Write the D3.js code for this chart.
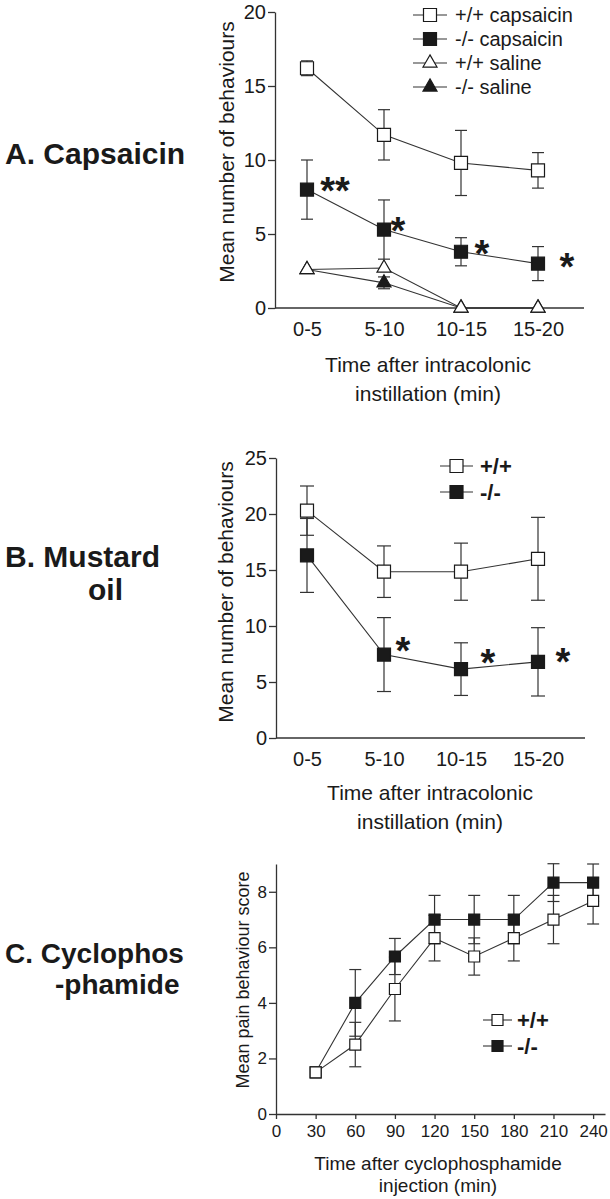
<!DOCTYPE html>
<html>
<head>
<meta charset="utf-8">
<script src="https://cdn.jsdelivr.net/npm/d3@7"></script>
<style>
  body { margin: 0; background: #fff; }
  svg { display: block; font-family: "Liberation Sans", Arial, sans-serif; }
</style>
</head>
<body>
<div id="chart"></div>
<script>
// ---- data ----
const timeBins = ['0-5', '5-10', '10-15', '15-20'];

// A. capsaicin
const capWtMean = [16.2, 11.7, 9.8, 9.3];
const capWtErr = [0.5, 1.7, 2.2, 1.2];
const capKoMean = [8.0, 5.3, 3.8, 3.0];
const capKoErr = [2.0, 2.0, 0.95, 1.15];
const salWtMean = [2.6, 2.7, 0, 0];
const salWtErr = [0, 0, 0, 0];
const salKoMean = [2.6, 1.7, 0, 0];
const salKoErr = [0, 0.4, 0, 0];
const capStars = ['**', '*', '*', '*'];
const capTicks = [0, 5, 10, 15, 20];
const capLegend = ['+/+ capsaicin', '-/- capsaicin', '+/+ saline', '-/- saline'];

// B. mustard oil
const mustWtMean = [20.3, 14.85, 14.85, 16.0];
const mustWtErr = [2.2, 2.3, 2.55, 3.7];
const mustKoMean = [16.3, 7.45, 6.15, 6.8];
const mustKoErr = [3.3, 3.3, 2.35, 3.05];
const mustStars = ['', '*', '*', '*'];
const mustTicks = [0, 5, 10, 15, 20, 25];

// C. cyclophosphamide
const cycTimes = [30, 60, 90, 120, 150, 180, 210, 240];
const cycWtMean = [1.5, 2.5, 4.5, 6.33, 5.67, 6.33, 7.0, 7.67];
const cycWtErr = [0, 0.8, 1.15, 0.82, 0.67, 0.82, 0.87, 0.83];
const cycKoMean = [1.5, 4.0, 5.67, 7.0, 7.0, 7.0, 8.33, 8.33];
const cycKoErr = [0, 1.2, 0.65, 0.87, 0.87, 0.87, 0.68, 0.67];
const cycXTicks = [0, 30, 60, 90, 120, 150, 180, 210, 240];
const cycYTicks = [0, 2, 4, 6, 8];

const genoLegend = ['+/+', '-/-'];

// ---- drawing ----
const ink = '#1a1a1a';
const lineInk = '#333';
const svg = d3.select('#chart').append('svg')
  .attr('width', 610)
  .attr('height', 1199);

// layers per panel so whiskers sit under lines and lines under markers
function layers() {
  const g = svg.append('g');
  return { err: g.append('g'), line: g.append('g'), mark: g.append('g'), top: g };
}

function series(L, x, y, xs, means, errs, o) {
  const pts = xs.map((xv, i) => ({ xv, v: means[i], e: errs[i], i }));

  // error bars
  const eb = L.err.append('g').attr('stroke', lineInk).attr('stroke-width', 1.2);
  pts.filter(p => p.e > 0).forEach(p => {
    const cx = x(p.xv);
    eb.append('line').attr('x1', cx).attr('x2', cx)
      .attr('y1', y(p.v - p.e)).attr('y2', y(p.v + p.e));
    [p.v - p.e, p.v + p.e].forEach(v => {
      eb.append('line').attr('x1', cx - o.cap).attr('x2', cx + o.cap)
        .attr('y1', y(v)).attr('y2', y(v));
    });
  });

  // connecting line
  L.line.append('path')
    .datum(pts)
    .attr('fill', 'none')
    .attr('stroke', lineInk)
    .attr('stroke-width', 1.1)
    .attr('d', d3.line().x(d => x(d.xv)).y(d => y(d.v)));

  // markers
  L.mark.append('g')
    .selectAll('path')
    .data(pts)
    .enter()
    .append('path')
    .attr('d', d3.symbol().type(o.symbol).size(o.size))
    .attr('transform', d => `translate(${x(d.xv)} ${y(d.v)})`)
    .attr('fill', o.filled ? ink : '#fff')
    .attr('stroke', ink)
    .attr('stroke-width', 1.2);
  return pts;
}

function styleAxis(g, fs) {
  g.attr('font-family', null).attr('font-size', fs);
  g.selectAll('path, line').attr('stroke', lineInk).attr('stroke-width', 1.3);
  g.selectAll('text').attr('fill', ink);
}

function legend(g, rows, o) {
  rows.forEach((r, i) => {
    const cy = o.y0 + i * o.step;
    g.append('line')
      .attr('x1', o.x0).attr('x2', o.x1).attr('y1', cy).attr('y2', cy)
      .attr('stroke', lineInk).attr('stroke-width', 1.1);
    g.append('path')
      .attr('d', d3.symbol().type(r.symbol).size(r.size))
      .attr('transform', `translate(${(o.x0 + o.x1) / 2} ${cy})`)
      .attr('fill', r.filled ? ink : '#fff')
      .attr('stroke', ink)
      .attr('stroke-width', 1.2);
    g.append('text')
      .attr('x', o.xt).attr('y', cy).attr('dy', '0.35em')
      .attr('font-size', o.fs)
      .attr('font-weight', o.bold ? 'bold' : null)
      .attr('fill', ink)
      .text(r.label);
  });
}

// significance asterisks next to the knockout points
function stars(g, x, y, pts, labels, shifts) {
  g.selectAll(null)
    .data(pts.filter(p => labels[p.i] !== ''))
    .enter()
    .append('text')
    .attr('x', d => x(d.xv) + shifts[d.i][0])
    .attr('y', d => y(d.v) + shifts[d.i][1] + 21)
    .attr('text-anchor', 'middle')
    .attr('font-size', 38)
    .attr('font-weight', 'bold')
    .attr('fill', ink)
    .text(d => labels[d.i]);
}

function label(lines, fs) {
  lines.forEach(l => {
    svg.append('text')
      .attr('x', l[1]).attr('y', l[2])
      .attr('font-size', fs)
      .attr('font-weight', 'bold')
      .attr('fill', ink)
      .text(l[0]);
  });
}

function yTitle(text, cx, cy, fs) {
  svg.append('text')
    .attr('transform', `translate(${cx} ${cy}) rotate(-90)`)
    .attr('text-anchor', 'middle')
    .attr('dy', '0.35em')
    .attr('font-size', fs)
    .attr('fill', ink)
    .text(text);
}

function xTitle(lines, cx, cy, step, fs) {
  lines.forEach((t, i) => {
    svg.append('text')
      .attr('x', cx).attr('y', cy + i * step)
      .attr('text-anchor', 'middle')
      .attr('dy', '0.35em')
      .attr('font-size', fs)
      .attr('fill', ink)
      .text(t);
  });
}

function frame(L, ya, xa, fs) {
  styleAxis(ya, fs);
  styleAxis(xa, fs);
  L.top.node().appendChild(L.err.node());
  L.top.node().appendChild(L.line.node());
  L.top.node().appendChild(L.mark.node());
}

// ---------- A. Capsaicin ----------
{
  const left = 275, right = 584;
  const x = d3.scalePoint().domain(timeBins).range([307, 538]);
  const y = d3.scaleLinear().domain([0, 20]).range([308, 12]);
  const L = layers();

  const ya = L.top.append('g').attr('transform', `translate(${left} 0)`)
    .call(d3.axisLeft(y).tickValues(capTicks).tickSize(7).tickPadding(2).tickSizeOuter(0));
  const xa = L.top.append('g').attr('transform', `translate(0 ${y(0)})`)
    .call(d3.axisBottom(x).tickSize(0).tickPadding(14));
  xa.select('.domain').remove();
  xa.append('line').attr('x1', left).attr('x2', right);
  frame(L, ya, xa, 20);

  series(L, x, y, timeBins, salKoMean, salKoErr, { symbol: d3.symbolTriangle, size: 85, filled: true, cap: 6 });
  series(L, x, y, timeBins, salWtMean, salWtErr, { symbol: d3.symbolTriangle, size: 85, filled: false, cap: 6 });
  const ko = series(L, x, y, timeBins, capKoMean, capKoErr, { symbol: d3.symbolSquare, size: 169, filled: true, cap: 6 });
  series(L, x, y, timeBins, capWtMean, capWtErr, { symbol: d3.symbolSquare, size: 169, filled: false, cap: 6 });

  stars(L.top, x, y, ko, capStars, [[28, -7], [14, -7], [21, -6], [29, -5]]);

  legend(L.top, [
    { label: capLegend[0], symbol: d3.symbolSquare, size: 169, filled: false },
    { label: capLegend[1], symbol: d3.symbolSquare, size: 169, filled: true },
    { label: capLegend[2], symbol: d3.symbolTriangle, size: 85, filled: false },
    { label: capLegend[3], symbol: d3.symbolTriangle, size: 85, filled: true }
  ], { x0: 413, x1: 447, xt: 455, y0: 15, step: 24, fs: 20 });

  yTitle('Mean number of behaviours', 227, 152, 21);
  xTitle(['Time after intracolonic', 'instillation (min)'], 428, 365, 29, 21);
  label([['A. Capsaicin', 5, 164]], 30);
}

// ---------- B. Mustard oil ----------
{
  const left = 276, right = 585;
  const x = d3.scalePoint().domain(timeBins).range([307, 538]);
  const y = d3.scaleLinear().domain([0, 25]).range([738, 458]);
  const L = layers();

  const ya = L.top.append('g').attr('transform', `translate(${left} 0)`)
    .call(d3.axisLeft(y).tickValues(mustTicks).tickSize(7).tickPadding(2).tickSizeOuter(0));
  const xa = L.top.append('g').attr('transform', `translate(0 ${y(0)})`)
    .call(d3.axisBottom(x).tickSize(0).tickPadding(14));
  xa.select('.domain').remove();
  xa.append('line').attr('x1', left).attr('x2', right);
  frame(L, ya, xa, 20);

  const ko = series(L, x, y, timeBins, mustKoMean, mustKoErr, { symbol: d3.symbolSquare, size: 169, filled: true, cap: 7 });
  series(L, x, y, timeBins, mustWtMean, mustWtErr, { symbol: d3.symbolSquare, size: 169, filled: false, cap: 7 });

  stars(L.top, x, y, ko, mustStars, [[0, 0], [19, -12], [27, -14], [25, -8]]);

  legend(L.top, [
    { label: genoLegend[0], symbol: d3.symbolSquare, size: 169, filled: false },
    { label: genoLegend[1], symbol: d3.symbolSquare, size: 169, filled: true }
  ], { x0: 440, x1: 473, xt: 480, y0: 466, step: 26, fs: 22, bold: true });

  yTitle('Mean number of behaviours', 226, 592, 21);
  xTitle(['Time after intracolonic', 'instillation (min)'], 430, 793, 29, 21);
  label([['B. Mustard', 5, 567], ['oil', 88, 600]], 30);
}

// ---------- C. Cyclophosphamide ----------
{
  const x = d3.scaleLinear().domain([0, 249]).range([276, 605]);
  const y = d3.scaleLinear().domain([0, 9]).range([1114, 864]);
  const L = layers();

  const ya = L.top.append('g').attr('transform', `translate(${x(0)} 0)`)
    .call(d3.axisLeft(y).tickValues(cycYTicks).tickSize(7).tickPadding(2).tickSizeOuter(0));
  const xa = L.top.append('g').attr('transform', `translate(0 ${y(0)})`)
    .call(d3.axisBottom(x).tickValues(cycXTicks).tickSize(5).tickPadding(6).tickSizeOuter(0));
  frame(L, ya, xa, 17);

  series(L, x, y, cycTimes, cycKoMean, cycKoErr, { symbol: d3.symbolSquare, size: 121, filled: true, cap: 6 });
  series(L, x, y, cycTimes, cycWtMean, cycWtErr, { symbol: d3.symbolSquare, size: 121, filled: false, cap: 6 });

  legend(L.top, [
    { label: genoLegend[0], symbol: d3.symbolSquare, size: 121, filled: false },
    { label: genoLegend[1], symbol: d3.symbolSquare, size: 121, filled: true }
  ], { x0: 483, x1: 512, xt: 517, y0: 1020, step: 26, fs: 22, bold: true });

  yTitle('Mean pain behaviour score', 243, 980, 18);
  xTitle(['Time after cyclophosphamide', 'injection (min)'], 438, 1163, 22, 19);
  label([['C. Cyclophos', 5, 963], ['-phamide', 55, 994]], 28);
}
</script>
</body>
</html>
